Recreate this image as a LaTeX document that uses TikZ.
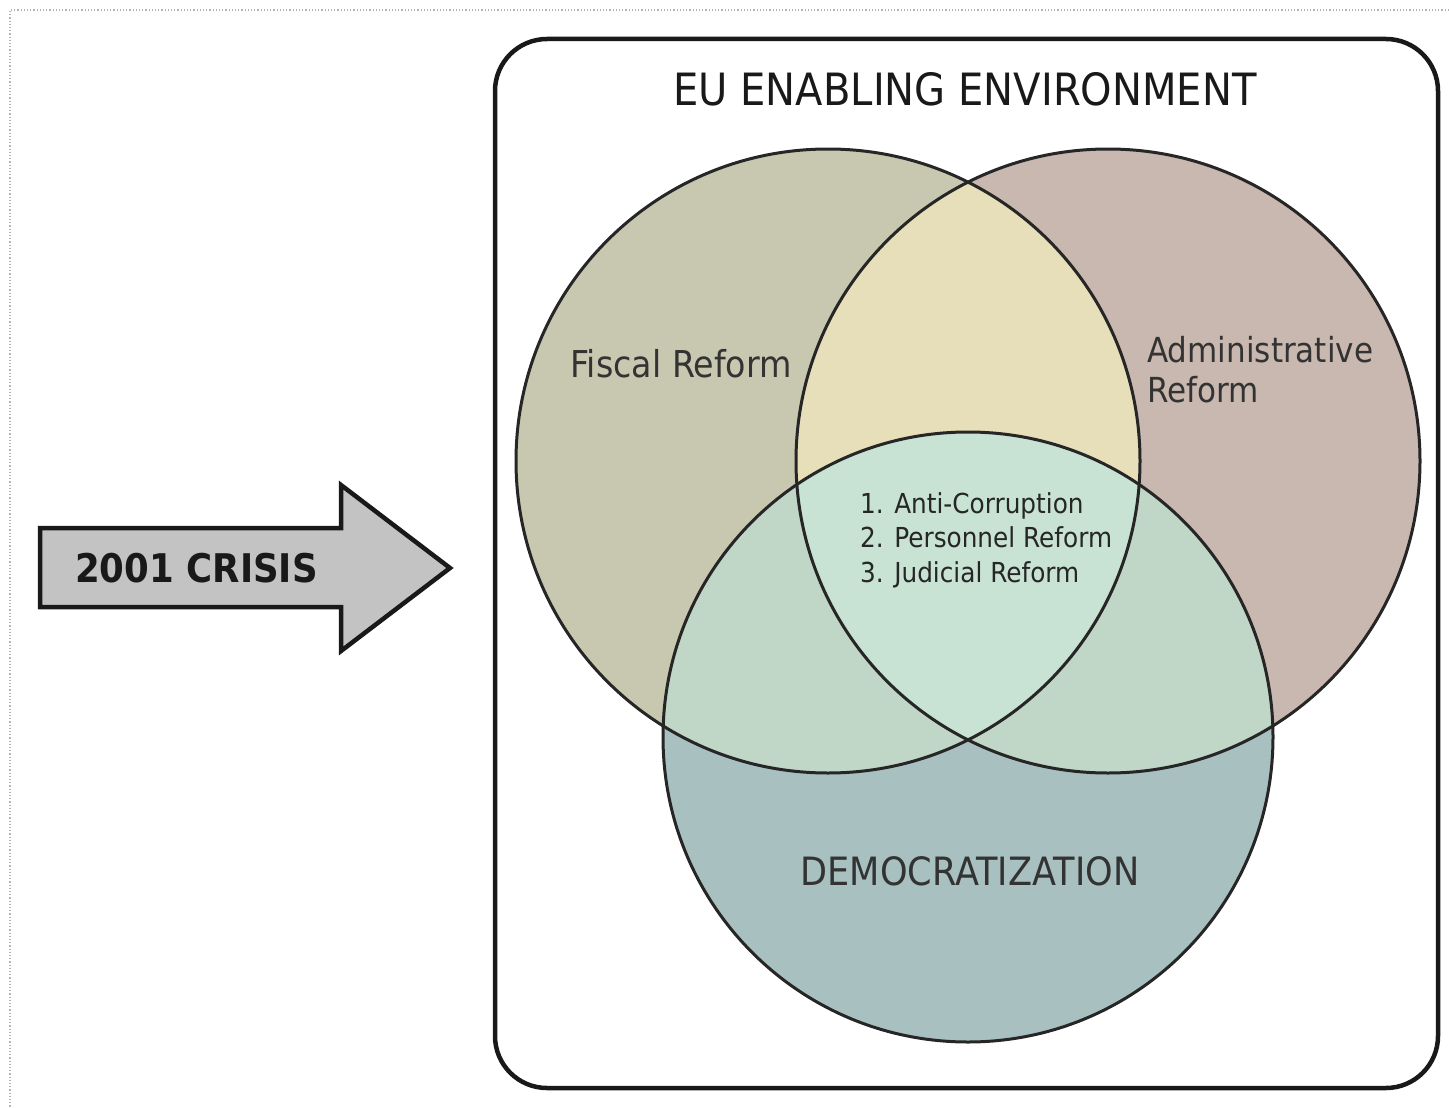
\documentclass[tikz,border=0pt]{standalone}
\usepackage{fontspec}
\setmainfont{DejaVu Sans}[FakeStretch=0.9]
\begin{document}
\begin{tikzpicture}[x=1pt,y=-1pt,
  vennline/.style={draw=black!85, line width=3pt},
  lbl/.style={text=black!80, inner sep=0pt},
]
\definecolor{cFis}{HTML}{C8C8B1}
\definecolor{cAdm}{HTML}{C8B8AF}
\definecolor{cFA}{HTML}{E6DFB9}
\definecolor{cDem}{HTML}{A8C0BF}
\definecolor{cFD}{HTML}{C0D6C6}
\definecolor{cAD}{HTML}{C0D6C6}
\definecolor{cFAD}{HTML}{C8E2D4}
\definecolor{cArrow}{HTML}{C3C3C3}
\useasboundingbox (0,0) rectangle (1449,1108);
% faint dotted page frame
\draw[black!30, dotted, line width=1.2pt] (1449,10) -- (10,10) -- (10,1108);
% outer rounded box
\draw[line width=4.5pt, black!90, rounded corners=52pt] (495,39) rectangle (1438,1088);
% centres
\coordinate (F) at (828,461);
\coordinate (A) at (1108,461);
\coordinate (D) at (968,737);
% fills
\fill[cFis] (F) circle (312pt);
\fill[cAdm] (A) circle (312pt);
\begin{scope}
  \clip (F) circle (312pt);
  \fill[cFA] (A) circle (312pt);
\end{scope}
\fill[cDem] (D) circle (305pt);
\begin{scope}
  \clip (D) circle (305pt);
  \fill[cFD] (F) circle (312pt);
  \fill[cAD] (A) circle (312pt);
  \clip (F) circle (312pt);
  \fill[cFAD] (A) circle (312pt);
\end{scope}
% outlines
\draw[vennline] (F) circle (312pt);
\draw[vennline] (A) circle (312pt);
\draw[vennline] (D) circle (305pt);
% title
\node[inner sep=0pt, anchor=base, text=black!90, font={\fontsize{44.5}{52}\selectfont}] (title) at (965,105)
  {EU ENABLING ENVIRONMENT};
% labels
\node[lbl, anchor=base, font={\fontsize{37}{44}\selectfont}] (fiscal) at (681,377)
  {Fiscal Reform};
\node[lbl, anchor=base west, align=left, font={\fontsize{34.5}{40}\selectfont}] (admin) at (1147,402)
  {Administrative\\Reform};
\node[lbl, anchor=base, font={\fontsize{39}{46}\selectfont}] (dem) at (970,885)
  {DEMOCRATIZATION};
\node[lbl, anchor=base west, align=left, text=black!85, font={\fontsize{27.5}{34.5}\selectfont}] (list) at (860,582)
  {1. Anti-Corruption\\2. Personnel Reform\\3. Judicial Reform};
% crisis arrow
\draw[line width=4.5pt, black!90, fill=cArrow, line join=miter]
  (40,528) -- (341,528) -- (341,485) -- (450,568) -- (341,651) -- (341,607) -- (40,607) -- cycle;
\node[inner sep=0pt, anchor=base west, text=black!90, font={\fontsize{39.5}{46}\selectfont\bfseries}] (crisis) at (75,582)
  {2001 CRISIS};
\end{tikzpicture}
\end{document}
